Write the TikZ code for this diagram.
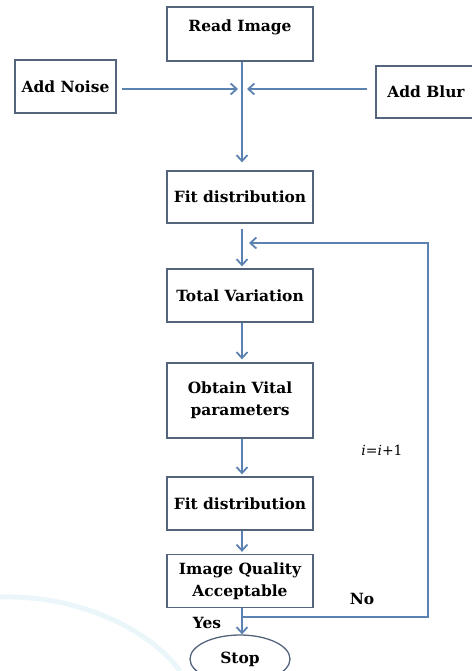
\documentclass[tikz,border=0pt]{standalone}
\usepackage{fontspec}
\setmainfont{DejaVu Serif}
\usetikzlibrary{arrows.meta,shapes.geometric}
\definecolor{linec}{RGB}{92,130,178}
\definecolor{boxc}{RGB}{85,100,125}
\definecolor{swooshc}{RGB}{234,246,250}
\begin{document}
\begin{tikzpicture}[x=1bp,y=-1bp,
  box/.style={draw=boxc,line width=1.3bp,rectangle,minimum width=146bp,inner sep=0pt,
    font=\bfseries\fontsize{15.5}{22}\selectfont,align=center},
  conn/.style={draw=linec,line width=1.8bp},
  arr/.style={conn,-{Straight Barb[length=6bp,width=11bp]}},
  lbl/.style={font=\bfseries\fontsize{15.5}{18}\selectfont}]
\useasboundingbox (0,0) rectangle (472,671);
\draw[swooshc,line width=5bp] (0,597) .. controls (80,595) and (150,630) .. (180,671);
% boxes
\node[box,minimum height=54bp,text height=11bp,text depth=16bp] (read) at (240,34) {Read Image};
\node[box,minimum width=101bp,minimum height=53bp] (noise) at (65.5,86.5) {Add Noise};
\node[box,minimum width=100bp,minimum height=52bp] (blur) at (426,92) {Add Blur};
\node[box,minimum height=52bp] (fit1) at (240,197) {Fit distribution};
\node[box,minimum height=53bp] (tv) at (240,295.5) {Total Variation};
\node[box,minimum height=75bp] (ov) at (240,400.5) {Obtain Vital\\parameters};
\node[box,minimum height=53bp] (fit2) at (240,503.5) {Fit distribution};
\node[box,minimum height=53bp] (iq) at (240,581) {Image Quality\\Acceptable};
\node[draw=boxc,line width=1.3bp,ellipse,minimum width=100bp,minimum height=48bp,inner sep=0pt,lbl] (stop) at (240,659) {Stop};
% coordinates
\coordinate (j) at (242,89);
\coordinate (split) at (242,617);
\coordinate (c1) at (428,617);
\coordinate (c2) at (428,243);
\coordinate (back) at (242,243);
% connectors
\draw[conn] (read.south -| j) -- (j);
\draw[arr,shorten >=8bp] (j) -- (fit1.north -| j);
\draw[arr,shorten <=5bp,shorten >=4bp] (noise.east |- j) -- (j);
\draw[arr,shorten <=8bp,shorten >=5bp] (blur.west |- j) -- (j);
\draw[arr,shorten <=5bp,shorten >=2bp] (fit1.south -| j) -- (tv.north -| j);
\draw[arr,shorten >=3bp] (tv.south -| j) -- (ov.north -| j);
\draw[arr,shorten >=2bp] (ov.south -| j) -- (fit2.north -| j);
\draw[arr,shorten >=2bp] (fit2.south -| j) -- (iq.north -| j);
\draw[arr] (iq.south -| j) -- (stop.north -| j);
\draw[arr,shorten >=7bp] (split) -- (c1) -- (c2) -- (back);
% labels
\node[lbl] (no) at (362,599) {No};
\node[lbl] (yes) at (207,623) {Yes};
\node[font=\fontsize{14}{17}\selectfont] (inc) at (382,450) {\textit{i}=\textit{i}+1};
\end{tikzpicture}
\end{document}
